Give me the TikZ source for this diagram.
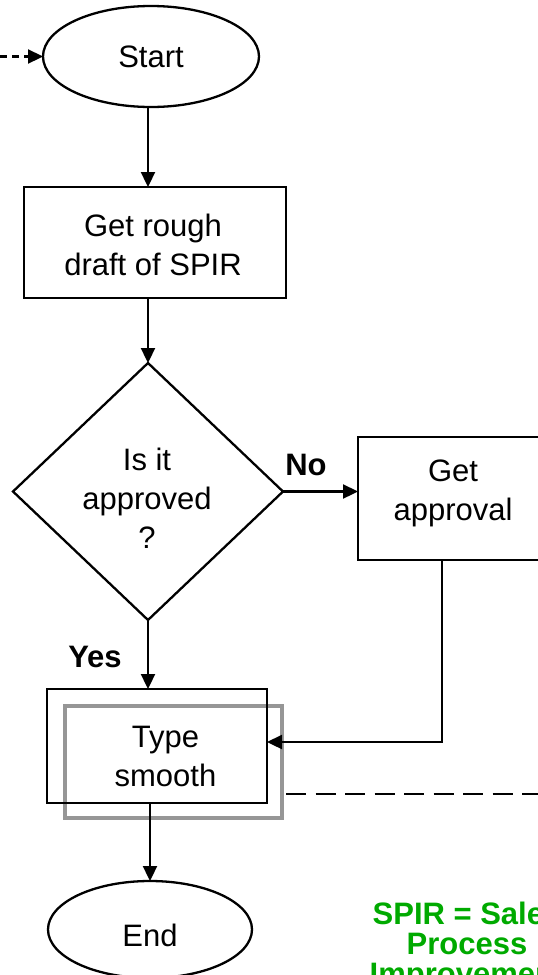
\documentclass[tikz,border=0pt]{standalone}
\usepackage{fontspec}
\setmainfont{Liberation Sans}
\usetikzlibrary{shapes.geometric,arrows.meta}
\definecolor{framegray}{RGB}{150,150,150}
\definecolor{notegreen}{RGB}{0,170,0}
\begin{document}
\begin{tikzpicture}[x=1pt,y=-1pt,
  line width=2.3pt,
  every node/.style={inner sep=0pt,outer sep=0pt},
  lbl/.style={font=\fontsize{31}{39}\selectfont},
  boldlbl/.style={font=\fontsize{31}{39}\selectfont\bfseries},
  multiline/.style={lbl,align=center},
  terminal/.style={draw,ellipse,lbl},
  process/.style={draw,rectangle},
  decision/.style={draw,diamond,aspect=1},
  highlight/.style={draw=framegray,line width=4pt,rectangle},
  flow/.style={-{Triangle[length=15pt,width=14pt]}},
  entryflow/.style={flow,dash pattern=on 7pt off 5pt},
  linkline/.style={dash pattern=on 20pt off 9.5pt},
  note/.style={align=center,text=notegreen,font=\fontsize{31}{30}\selectfont\bfseries}]

\path[use as bounding box] (0,0) rectangle (538,975);
\clip (0,0) rectangle (538,975);

% shapes of the flow
\node[terminal, minimum width=216pt, minimum height=101pt] (start) at (151,56.5) {Start};
\node[process, minimum width=262pt, minimum height=111pt] (draft) at (155,242.5) {};
\node[decision, minimum width=270pt, minimum height=257pt] (dec) at (148,491.5) {};
\node[process, minimum width=190pt, minimum height=123pt] (appr) at (453,498.5) {};
\node[highlight, minimum width=217pt, minimum height=112pt] (typeframe) at (173.5,762) {};
\node[process, minimum width=220pt, minimum height=114pt] (type) at (157,746) {};
\node[terminal, minimum width=204pt, minimum height=97pt, text height=35pt] (end) at (150,929.5) {End};

% texts inside the shapes
\node[multiline] (drafttext) at (153,244.7) {Get rough\\draft of SPIR};
\node[multiline] (dectext) at (147,498.4) {Is it\\approved\\?};
\node[multiline] (apprtext) at (453,493) {Get\\approval};
\node[multiline] (typetext) at (165.5,756) {Type\\smooth};

% branch labels
\node[boldlbl] (nolbl) at (306,465) {No};
\node[boldlbl] (yeslbl) at (95,657) {Yes};

% connectors
\coordinate (entry) at (0,56.5);
\draw[entryflow] (entry) -- (start.west);
\draw[flow] (start.south -| dec.north) -- (draft.north -| dec.north);
\draw[flow] (draft.south -| dec.north) -- (dec.north);
\draw[flow] (dec.east) -- (dec.east -| appr.west);
\draw[flow] (dec.south) -- (dec.south |- type.north);
\coordinate (bend) at (442,742);
\draw[flow] (appr.south -| bend) -- (bend) -- (bend -| type.east);
\draw[flow] (type.south -| end.north) -- (end.north);
\coordinate (dashend) at (545,794);
\draw[linkline] ([xshift=4pt]typeframe.east |- dashend) -- (dashend);

% abbreviation note
\node[note] (abbr) at (467,946.8) {SPIR = Sales\\Process\\Improvement};
\end{tikzpicture}
\end{document}
